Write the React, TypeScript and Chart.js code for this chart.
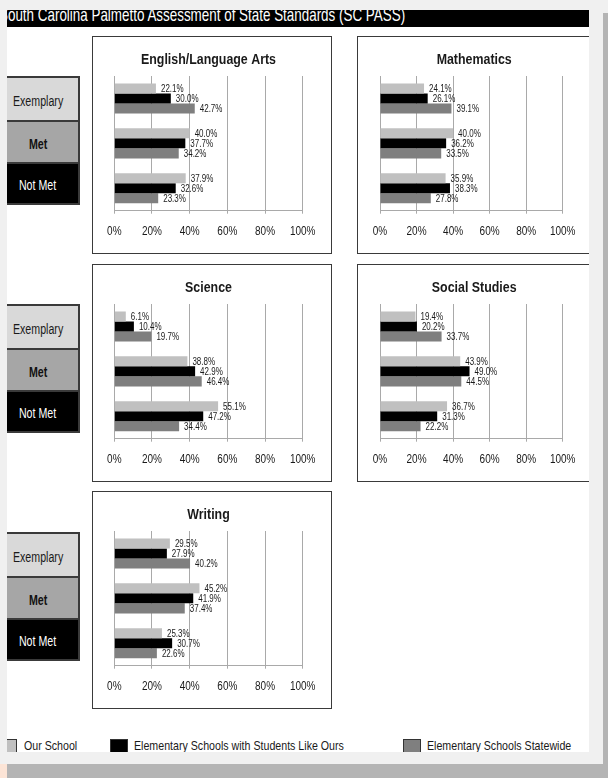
import React, { useEffect, useRef } from "react";
import { Chart, registerables } from "chart.js";

Chart.register(...registerables);

// ---------- data ----------
const categories = ["Exemplary", "Met", "Not Met"];
const seriesNames = [
  "Our School",
  "Elementary Schools with Students Like Ours",
  "Elementary Schools Statewide",
];
const xTickValues = [0, 20, 40, 60, 80, 100];

const elaOurSchool = [22.1, 40.0, 37.9];
const elaLikeOurs = [30.0, 37.7, 32.6];
const elaStatewide = [42.7, 34.2, 23.3];

const mathOurSchool = [24.1, 40.0, 35.9];
const mathLikeOurs = [26.1, 36.2, 38.3];
const mathStatewide = [39.1, 33.5, 27.8];

const sciOurSchool = [6.1, 38.8, 55.1];
const sciLikeOurs = [10.4, 42.9, 47.2];
const sciStatewide = [19.7, 46.4, 34.4];

const ssOurSchool = [19.4, 43.9, 36.7];
const ssLikeOurs = [20.2, 49.0, 31.3];
const ssStatewide = [33.7, 44.5, 22.2];

const wrOurSchool = [29.5, 45.2, 25.3];
const wrLikeOurs = [27.9, 41.9, 30.7];
const wrStatewide = [40.2, 37.4, 22.6];

const pageTitle = "South Carolina Palmetto Assessment of State Standards (SC PASS)";

// ---------- styles ----------
const FONT = "'Liberation Sans', Arial, sans-serif";
const K = 0.8; // horizontal squeeze of canvas text (reference text is condensed)
const seriesColors = ["#c0c0c0", "#000000", "#7f7f7f"];
const GRID = "#a9a9a9";
const TEXT = "#1a1a1a";

Chart.defaults.font.family = FONT;

const valueLabelPlugin = {
  id: "valueLabels",
  afterDatasetsDraw(chart: any) {
    const ctx = chart.ctx;
    ctx.save();
    ctx.font = `10px ${FONT}`;
    ctx.fillStyle = TEXT;
    ctx.textBaseline = "middle";
    ctx.textAlign = "left";
    chart.data.datasets.forEach((ds: any, di: number) => {
      const meta = chart.getDatasetMeta(di);
      meta.data.forEach((el: any, i: number) => {
        const v = ds.data[i] as number;
        ctx.fillText(v.toFixed(1) + "%", el.x + 5, el.y + 1);
      });
    });
    ctx.restore();
  },
};

function squeezeText(ctx: any, k: number) {
  const orig = ctx.fillText;
  ctx.fillText = function (t: string, x: number, y: number, mw?: number) {
    this.save();
    this.translate(x, y);
    this.scale(k, 1);
    if (mw === undefined || mw === null) orig.call(this, t, 0, 0);
    else orig.call(this, t, 0, 0, mw / k);
    this.restore();
  };
}

type PanelProps = {
  title: string;
  values: number[][];
  width: number;
  height: number;
  padLeft: number;
  padRight: number;
};

function PanelChart({ title, values, width, height, padLeft, padRight }: PanelProps) {
  const ref = useRef<HTMLCanvasElement | null>(null);
  useEffect(() => {
    if (!ref.current) return;
    const ctx = ref.current.getContext("2d");
    squeezeText(ctx, K);
    const chart = new Chart(ref.current, {
      type: "bar",
      data: {
        labels: categories,
        datasets: seriesNames.map((name, i) => ({
          label: name,
          data: values[i],
          backgroundColor: seriesColors[i],
          borderWidth: 0,
          categoryPercentage: 0.67,
          barPercentage: 1,
        })),
      },
      options: {
        indexAxis: "y",
        responsive: false,
        maintainAspectRatio: false,
        animation: false,
        events: [],
        layout: { padding: { left: padLeft, right: padRight, top: 0, bottom: 0 } },
        plugins: {
          legend: { display: false },
          tooltip: { enabled: false },
          title: {
            display: true,
            text: title,
            color: TEXT,
            font: { family: FONT, size: 15.5, weight: "bold" },
            padding: { top: 13.5, bottom: 6.9 },
          },
        },
        scales: {
          x: {
            type: "linear",
            min: 0,
            max: 100,
            afterBuildTicks: (s: any) => {
              s.ticks = xTickValues.map((v) => ({ value: v }));
            },
            ticks: {
              callback: (v: any) => v + "%",
              font: { family: FONT, size: 12.5 },
              color: TEXT,
              padding: 10.3,
              maxRotation: 0,
            },
            grid: { color: GRID, lineWidth: 1, tickLength: 3, drawTicks: true },
            border: { display: true, color: GRID, width: 1 },
            afterFit: (s: any) => {
              s.height = 42.3;
            },
          },
          y: {
            type: "category",
            ticks: { display: false },
            grid: { display: false, drawTicks: false },
            border: { display: true, color: GRID, width: 1 },
            afterFit: (s: any) => {
              s.width = 0;
            },
          },
        },
      } as any,
      plugins: [valueLabelPlugin],
    });
    return () => chart.destroy();
  }, []);
  return <canvas ref={ref} width={width} height={height} style={{ display: "block", width, height }} />;
}

// ---------- layout ----------
const PAGE_X = 7;
const PAGE_Y = 10;

const panels = [
  { title: "English/Language Arts", values: [elaOurSchool, elaLikeOurs, elaStatewide], x: 92, y: 36, w: 240, right: true },
  { title: "Mathematics", values: [mathOurSchool, mathLikeOurs, mathStatewide], x: 357, y: 36, w: 232, right: false },
  { title: "Science", values: [sciOurSchool, sciLikeOurs, sciStatewide], x: 92, y: 264, w: 240, right: true },
  { title: "Social Studies", values: [ssOurSchool, ssLikeOurs, ssStatewide], x: 357, y: 264, w: 232, right: false },
  { title: "Writing", values: [wrOurSchool, wrLikeOurs, wrStatewide], x: 92, y: 491, w: 240, right: true },
];

const boxRows = [76, 304, 532];

function SideBoxes({ top }: { top: number }) {
  const heights = [44, 42, 43];
  const styles = [
    { bg: "#d9d9d9", color: "#1a1a1a", weight: 400 },
    { bg: "#a6a6a6", color: "#111", weight: 700 },
    { bg: "#000000", color: "#ffffff", weight: 400 },
  ];
  let y = top;
  return (
    <>
      {categories.map((c, i) => {
        const t = y;
        y += heights[i];
        return (
          <div
            key={c}
            style={{
              position: "absolute",
              left: -2 - PAGE_X,
              top: t - PAGE_Y,
              width: 82,
              height: heights[i],
              boxSizing: "border-box",
              background: styles[i].bg,
              borderTop: "2px solid #3a3a3a",
              borderRight: "2px solid #3a3a3a",
              borderBottom: i === 2 ? "2px solid #3a3a3a" : "none",
              color: styles[i].color,
              fontFamily: FONT,
              fontSize: 14,
              fontWeight: styles[i].weight,
              display: "flex",
              alignItems: "center",
              justifyContent: "center",
              paddingTop: 3,
            }}
          >
            <span style={{ display: "inline-block", whiteSpace: "nowrap", transform: "scaleX(0.76)", transformOrigin: "center" }}>{c}</span>
          </div>
        );
      })}
    </>
  );
}

export default function App() {
  const legendItems = [
    { name: seriesNames[0], swatchX: 3, textX: 24, w: 14 },
    { name: seriesNames[1], swatchX: 110, textX: 134, w: 18 },
    { name: seriesNames[2], swatchX: 403, textX: 427, w: 18 },
  ];
  return (
    <div
      style={{
        position: "absolute",
        left: 0,
        top: 0,
        width: 608,
        height: 778,
        background: "#f0f0f0",
        overflow: "hidden",
      }}
    >
      <div style={{ position: "absolute", left: 603, top: 13, width: 5, height: 765, background: "#b4b4b4" }} />
      <div style={{ position: "absolute", left: 0, top: 764, width: 608, height: 14, background: "#b4b4b4" }} />
      <div style={{ position: "absolute", left: 0, top: 764, width: 7, height: 14, background: "#fce4d6" }} />

      <div
        style={{
          position: "absolute",
          left: PAGE_X,
          top: PAGE_Y,
          width: 589 - PAGE_X,
          height: 752 - PAGE_Y,
          background: "#ffffff",
          overflow: "hidden",
        }}
      >
        {/* page title bar */}
        <div
          style={{
            position: "absolute",
            left: 0,
            top: 0,
            width: 589 - PAGE_X,
            height: 17,
            background: "#000",
            overflow: "hidden",
          }}
        >
          <span
            style={{
              position: "absolute",
              left: -8.5,
              top: -4.6,
              whiteSpace: "nowrap",
              color: "#fff",
              fontFamily: FONT,
              fontSize: 19,
              lineHeight: "19px",
              transform: "scaleX(0.706)",
              transformOrigin: "left center",
            }}
          >
            {pageTitle}
          </span>
        </div>

        {boxRows.map((t) => (
          <SideBoxes key={t} top={t} />
        ))}

        {panels.map((p) => (
          <div
            key={p.title}
            style={{
              position: "absolute",
              left: p.x - PAGE_X,
              top: p.y - PAGE_Y,
              width: p.w,
              height: 218,
              boxSizing: "border-box",
              border: "1px solid #3a3a3a",
              borderRight: p.right ? "1px solid #3a3a3a" : "none",
              background: "#fff",
            }}
          >
            <PanelChart
              title={p.title}
              values={p.values}
              width={p.w - (p.right ? 2 : 1)}
              height={216}
              padLeft={p.right ? 21.3 : 22}
              padRight={p.right ? 28.3 : 20.6}
            />
          </div>
        ))}

        {legendItems.map((it) => (
          <React.Fragment key={it.name}>
            <div
              style={{
                position: "absolute",
                left: it.swatchX - PAGE_X,
                top: 739 - PAGE_Y,
                width: it.w,
                height: 15,
                boxSizing: "border-box",
                background: seriesColors[seriesNames.indexOf(it.name)],
                border: "1px solid #333",
              }}
            />
            <span
              style={{
                position: "absolute",
                left: it.textX - PAGE_X,
                top: 738.4 - PAGE_Y,
                whiteSpace: "nowrap",
                color: TEXT,
                fontFamily: FONT,
                fontSize: 13.3,
                lineHeight: "15px",
                transform: "scaleX(0.8)",
                transformOrigin: "left center",
              }}
            >
              {it.name}
            </span>
          </React.Fragment>
        ))}
      </div>
    </div>
  );
}
